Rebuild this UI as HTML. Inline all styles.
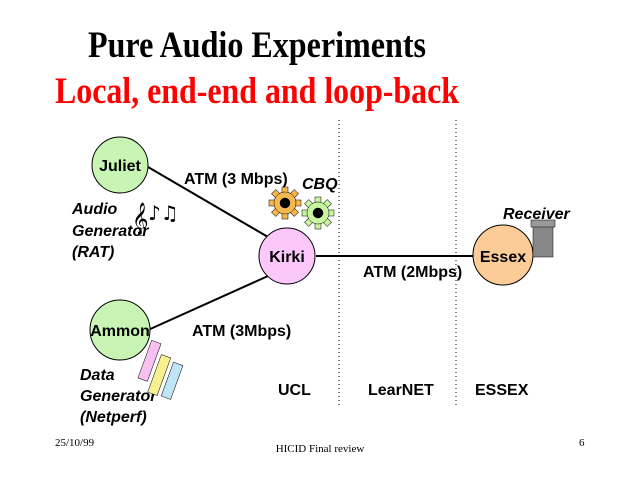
<!DOCTYPE html>
<html><head><meta charset="utf-8"><style>body{margin:0;background:#fff}svg{display:block}</style></head>
<body>
<svg width="640" height="480" viewBox="0 0 640 480" xmlns="http://www.w3.org/2000/svg">
<rect width="640" height="480" fill="#fff"/>
<text x="257" y="57" text-anchor="middle" font-family="Liberation Serif, serif" font-weight="bold" font-size="37" textLength="338" lengthAdjust="spacingAndGlyphs">Pure Audio Experiments</text>
<text x="257" y="103" text-anchor="middle" font-family="Liberation Serif, serif" font-weight="bold" font-size="37" fill="#f00" textLength="404" lengthAdjust="spacingAndGlyphs">Local, end-end and loop-back</text>
<line x1="339" y1="120" x2="339" y2="405" stroke="#000" stroke-dasharray="1,3"/>
<line x1="456" y1="120" x2="456" y2="405" stroke="#000" stroke-dasharray="1,3"/>
<line x1="148" y1="167" x2="268" y2="237" stroke="#000" stroke-width="2"/>
<line x1="148" y1="330" x2="268" y2="276" stroke="#000" stroke-width="2"/>
<line x1="316" y1="256" x2="474" y2="256" stroke="#000" stroke-width="2"/>
<circle cx="120" cy="165" r="28" fill="#c8f5b4" stroke="#000"/>
<circle cx="287" cy="256" r="28" fill="#fcc8fc" stroke="#000"/>
<circle cx="120" cy="330" r="30" fill="#c8f5b4" stroke="#000"/>
<circle cx="503" cy="255" r="30" fill="#fccc98" stroke="#000"/>
<g font-family="Liberation Sans, sans-serif" font-weight="bold" font-size="16">
<text x="120" y="171" text-anchor="middle">Juliet</text>
<text x="287" y="262" text-anchor="middle">Kirki</text>
<text x="120" y="336" text-anchor="middle">Ammon</text>
<text x="503" y="262" text-anchor="middle">Essex</text>
<text x="184" y="184">ATM (3 Mbps)</text>
<text x="363" y="277">ATM (2Mbps)</text>
<text x="192" y="336">ATM (3Mbps)</text>
<text x="278" y="395">UCL</text>
<text x="368" y="395">LearNET</text>
<text x="475" y="395">ESSEX</text>
</g>
<g font-family="Liberation Sans, sans-serif" font-weight="bold" font-style="italic" font-size="16">
<text x="302" y="189">CBQ</text>
<text x="503" y="219">Receiver</text>
<text x="72" y="214">Audio</text>
<text x="72" y="236">Generator</text>
<text x="72" y="257">(RAT)</text>
<text x="80" y="380">Data</text>
<text x="80" y="401">Generator</text>
<text x="80" y="422">(Netperf)</text>
</g>
<text x="132" y="228" font-size="28" font-family="DejaVu Sans, sans-serif">𝄞</text>
<text x="148" y="220" font-size="20" font-family="DejaVu Sans, sans-serif">♪♫</text>
<g stroke="#000" stroke-width="0.5">
<g fill="#f8b850">
<circle cx="285" cy="203" r="11"/>
<rect x="282" y="187" width="6" height="32"/>
<rect x="269" y="200" width="32" height="6"/>
<rect x="282" y="187" width="6" height="32" transform="rotate(45 285 203)"/>
<rect x="282" y="187" width="6" height="32" transform="rotate(-45 285 203)"/>
<circle cx="285" cy="203" r="11"/>
</g>
<circle cx="285" cy="203" r="5" fill="#000"/>
<g fill="#c8f5a0">
<rect x="315" y="197" width="6" height="32"/>
<rect x="302" y="210" width="32" height="6"/>
<rect x="315" y="197" width="6" height="32" transform="rotate(45 318 213)"/>
<rect x="315" y="197" width="6" height="32" transform="rotate(-45 318 213)"/>
<circle cx="318" cy="213" r="11"/>
</g>
<circle cx="318" cy="213" r="5" fill="#000"/>
</g>
<g stroke="#000" stroke-width="0.5">
<rect x="533" y="226" width="20" height="31" fill="#888"/>
<rect x="531" y="220" width="24" height="7" fill="#999"/>
</g>
<g stroke="#000" stroke-width="0.5" transform="rotate(20 160 370)">
<rect x="142" y="345" width="10" height="40" fill="#f8c0f0"/>
<rect x="156" y="355" width="10" height="40" fill="#f8f090"/>
<rect x="170" y="358" width="10" height="36" fill="#c0e4f8"/>
</g>
<g font-family="Liberation Serif, serif" font-size="11">
<text x="55" y="446">25/10/99</text>
<text x="320" y="452" text-anchor="middle">HICID Final review</text>
<text x="579" y="446">6</text>
</g>
</svg>
</body></html>
